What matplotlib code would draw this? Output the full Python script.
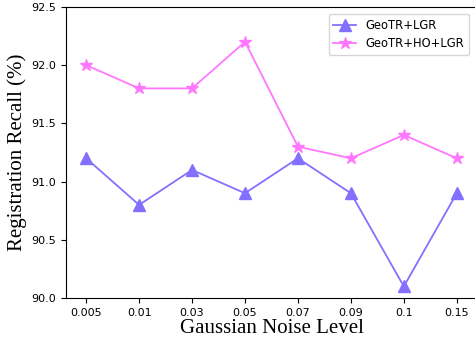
import matplotlib
matplotlib.use("Agg")
import matplotlib.pyplot as plt
import numpy as np

noise_levels = ["0.005", "0.01", "0.03", "0.05", "0.07", "0.09", "0.1", "0.15"]
geotr_lgr = [91.2, 90.8, 91.1, 90.9, 91.2, 90.9, 90.1, 90.9]
geotr_ho_lgr = [92.0, 91.8, 91.8, 92.2, 91.3, 91.2, 91.4, 91.2]

fig = plt.figure(figsize=(4.75, 3.43), dpi=100)
ax = fig.add_axes([0.139, 0.131, 0.865, 0.849])
x = np.arange(len(noise_levels))
ax.plot(x, geotr_lgr, color="#8470FF", marker="^", markersize=8, linewidth=1.3, label="GeoTR+LGR")
ax.plot(x, geotr_ho_lgr, color="#FF77FF", marker="*", markersize=9, linewidth=1.3, label="GeoTR+HO+LGR")
ax.set_xlim(-0.38, 7.38)
ax.set_ylim(90.0, 92.5)
ax.set_xticks(x)
ax.set_xticklabels(noise_levels)
ax.set_yticks([90.0, 90.5, 91.0, 91.5, 92.0, 92.5])
ax.tick_params(labelsize=8)
ax.set_xlabel("Gaussian Noise Level", family="Liberation Serif", fontsize=15, labelpad=1)
ax.set_ylabel("Registration Recall (%)", family="Liberation Serif", fontsize=15, labelpad=3)
ax.legend(loc="upper right", fontsize=8.3, bbox_to_anchor=(0.995, 0.995))
fig.savefig("out.png", dpi=100)
